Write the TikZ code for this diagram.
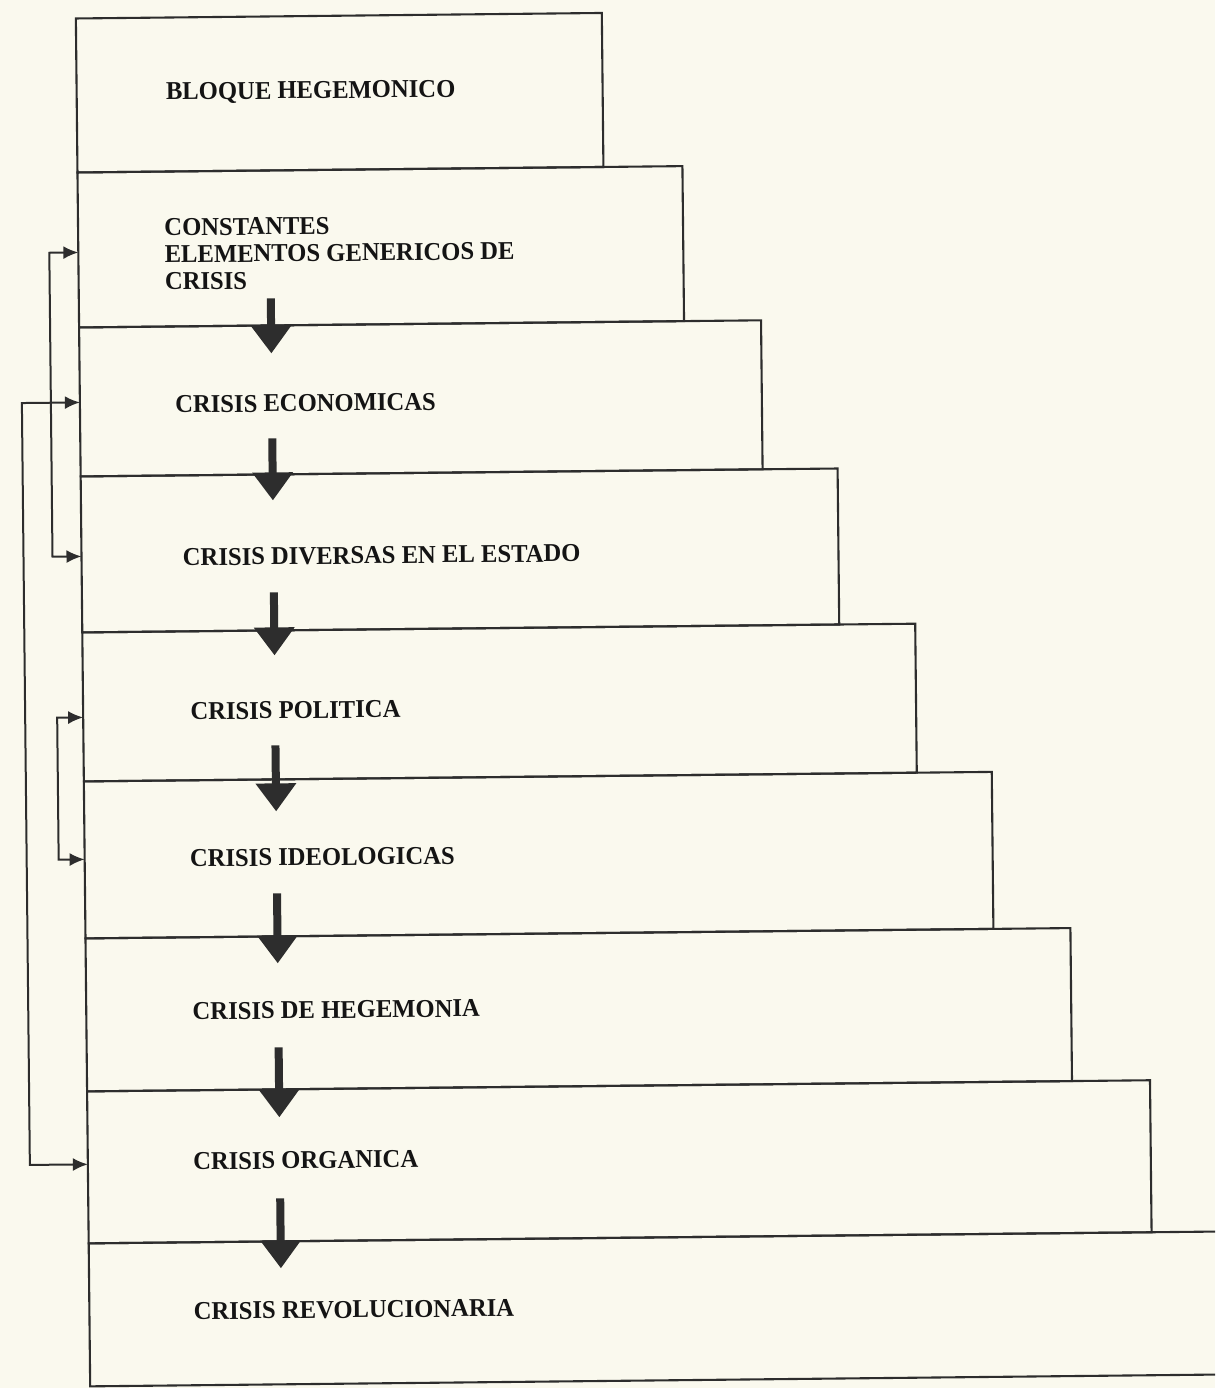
\documentclass[tikz,border=0pt]{standalone}
\usepackage{fontspec}
\setmainfont{Liberation Serif}
\newfontfamily\stagefont[FakeStretch=0.96]{Liberation Serif Bold}
\usetikzlibrary{arrows.meta}
\definecolor{paper}{RGB}{250,249,238}
\definecolor{ink}{RGB}{45,45,45}
\tikzset{
  stair/.style={draw=ink, line width=0.042cm},
  stage/.style={anchor=west, inner sep=0pt, align=left, text=black!92,
    font=\stagefont\fontsize{14.6}{15.4}\selectfont},
  flow/.style={draw=ink, line width=0.16cm,
    -{Triangle[width=0.78cm,length=0.56cm]}},
  loopback/.style={draw=ink, line width=0.04cm,
    {Latex[length=0.3cm,width=0.26cm]}-{Latex[length=0.3cm,width=0.26cm]}}
}
\begin{document}
\begin{tikzpicture}[x=0.02cm, y=-0.02cm]
    \fill[paper] (0,0) rectangle (1215,1388);
    \useasboundingbox (0,0) rectangle (1215,1388);
    \clip (0,0) rectangle (1215,1388);

    \begin{scope}[rotate around={0.6:(600,700)}, transform shape]
        %stairs
        \draw[stair] (83,13) rectangle (609,167);
        \draw[stair] (83,167) rectangle (688,322);
        \draw[stair] (83,322) rectangle (765,471);
        \draw[stair] (83,471) rectangle (840,627);
        \draw[stair] (83,627) rectangle (916,776);
        \draw[stair] (83,776) rectangle (991,933);
        \draw[stair] (83,933) rectangle (1068,1086);
        \draw[stair] (83,1086) rectangle (1146,1238);
        \draw[stair] (83,1238) rectangle (1300,1381);

        %stage texts
        \node[stage] (bloque) at (172,89) {BLOQUE HEGEMONICO};
        \node[stage] (constantes) at (169,250) {CONSTANTES\\ELEMENTOS GENERICOS DE\\CRISIS};
        \node[stage] (economicas) at (178,400) {CRISIS ECONOMICAS};
        \node[stage] (diversas) at (184,553) {CRISIS DIVERSAS EN EL ESTADO};
        \node[stage] (politica) at (190,707) {CRISIS POLITICA};
        \node[stage] (ideologicas) at (188,854) {CRISIS IDEOLOGICAS};
        \node[stage] (hegemonia) at (189,1007) {CRISIS DE HEGEMONIA};
        \node[stage] (organica) at (188,1157) {CRISIS ORGANICA};
        \node[stage] (revolucionaria) at (187,1307) {CRISIS REVOLUCIONARIA};

        %down arrows
        \foreach \n/\a/\b in {1/295/350, 2/435/497, 3/589/652, 4/742/808,
                              5/890/960, 6/1044/1114, 7/1195/1265} {
            \coordinate (s\n) at (275,\a);
            \coordinate (t\n) at (275,\b);
            \draw[flow] (s\n) -- (t\n);
        }

        %entry points on the left edge
        \coordinate (in2) at (83,247);
        \coordinate (in3) at (83,397);
        \coordinate (in4) at (83,551);
        \coordinate (in5) at (83,712);
        \coordinate (in6) at (83,854);
        \coordinate (in8) at (83,1159);

        %feedback lines
        \draw[loopback] (in2) -- ++(-29,0) |- (in4);
        \draw[loopback] (in3) -- ++(-58,0) |- (in8);
        \draw[loopback] (in5) -- ++(-26,0) |- (in6);
    \end{scope}
\end{tikzpicture}
\end{document}
